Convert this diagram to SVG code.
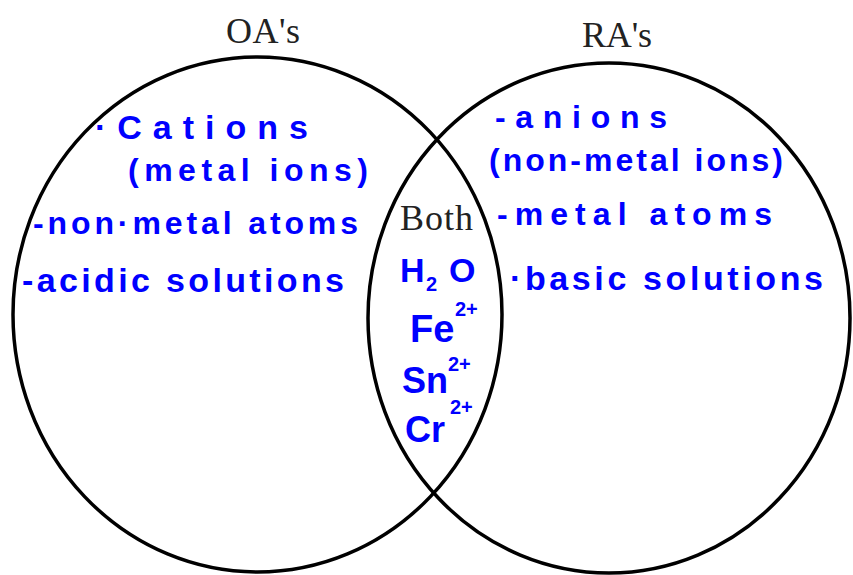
<svg xmlns="http://www.w3.org/2000/svg" width="853" height="575" viewBox="0 0 853 575">
  <style>
    .ring { fill: none; stroke: #000; stroke-width: 3.5; }
    .title { font-family: "Liberation Serif", "Times New Roman", serif; font-size: 36px; fill: #222; }
    .hand { font-family: "Liberation Sans", Arial, sans-serif; font-weight: bold; fill: #0000ff; }
    .sup { font-size: 20px; }
  </style>
  <rect width="853" height="575" fill="#fff"/>
  <g id="connectors"/>
  <g id="oa">
    <ellipse class="ring" cx="257.5" cy="314.5" rx="244.5" ry="257.5"/>
    <text class="title" x="226" y="43" textLength="74">OA's</text>
    <text class="hand" x="95" y="139" font-size="34" textLength="213" lengthAdjust="spacing">·Cations</text>
    <text class="hand" x="128" y="181" font-size="32" textLength="240" lengthAdjust="spacing">(metal ions)</text>
    <text class="hand" x="33" y="234" font-size="32" textLength="325" lengthAdjust="spacing">-non·metal atoms</text>
    <text class="hand" x="22" y="292" font-size="34" textLength="322" lengthAdjust="spacing">-acidic solutions</text>
  </g>
  <g id="ra">
    <ellipse class="ring" cx="609" cy="318" rx="241" ry="255"/>
    <text class="title" x="582" y="47" textLength="70">RA's</text>
    <text class="hand" x="495" y="128" font-size="32" textLength="172" lengthAdjust="spacing">-anions</text>
    <text class="hand" x="489" y="171" font-size="32" textLength="294" lengthAdjust="spacing">(non-metal ions)</text>
    <text class="hand" x="497" y="225" font-size="32" textLength="275" lengthAdjust="spacing">-metal atoms</text>
    <text class="hand" x="510" y="290" font-size="34" textLength="313" lengthAdjust="spacing">·basic solutions</text>
  </g>
  <g id="both">
    <text class="title" x="400" y="230" textLength="73">Both</text>
    <text class="hand" font-size="34" x="400" y="282">H<tspan class="sup" font-size="22" x="426" y="291">2</tspan><tspan x="449" y="282">O</tspan></text>
    <text class="hand" font-size="38" x="410" y="342">Fe<tspan class="sup" x="455" y="316">2+</tspan></text>
    <text class="hand" font-size="36" x="402" y="393">Sn<tspan class="sup" x="448" y="371">2+</tspan></text>
    <text class="hand" font-size="36" x="405" y="442">Cr<tspan class="sup" x="450" y="414">2+</tspan></text>
  </g>
</svg>
